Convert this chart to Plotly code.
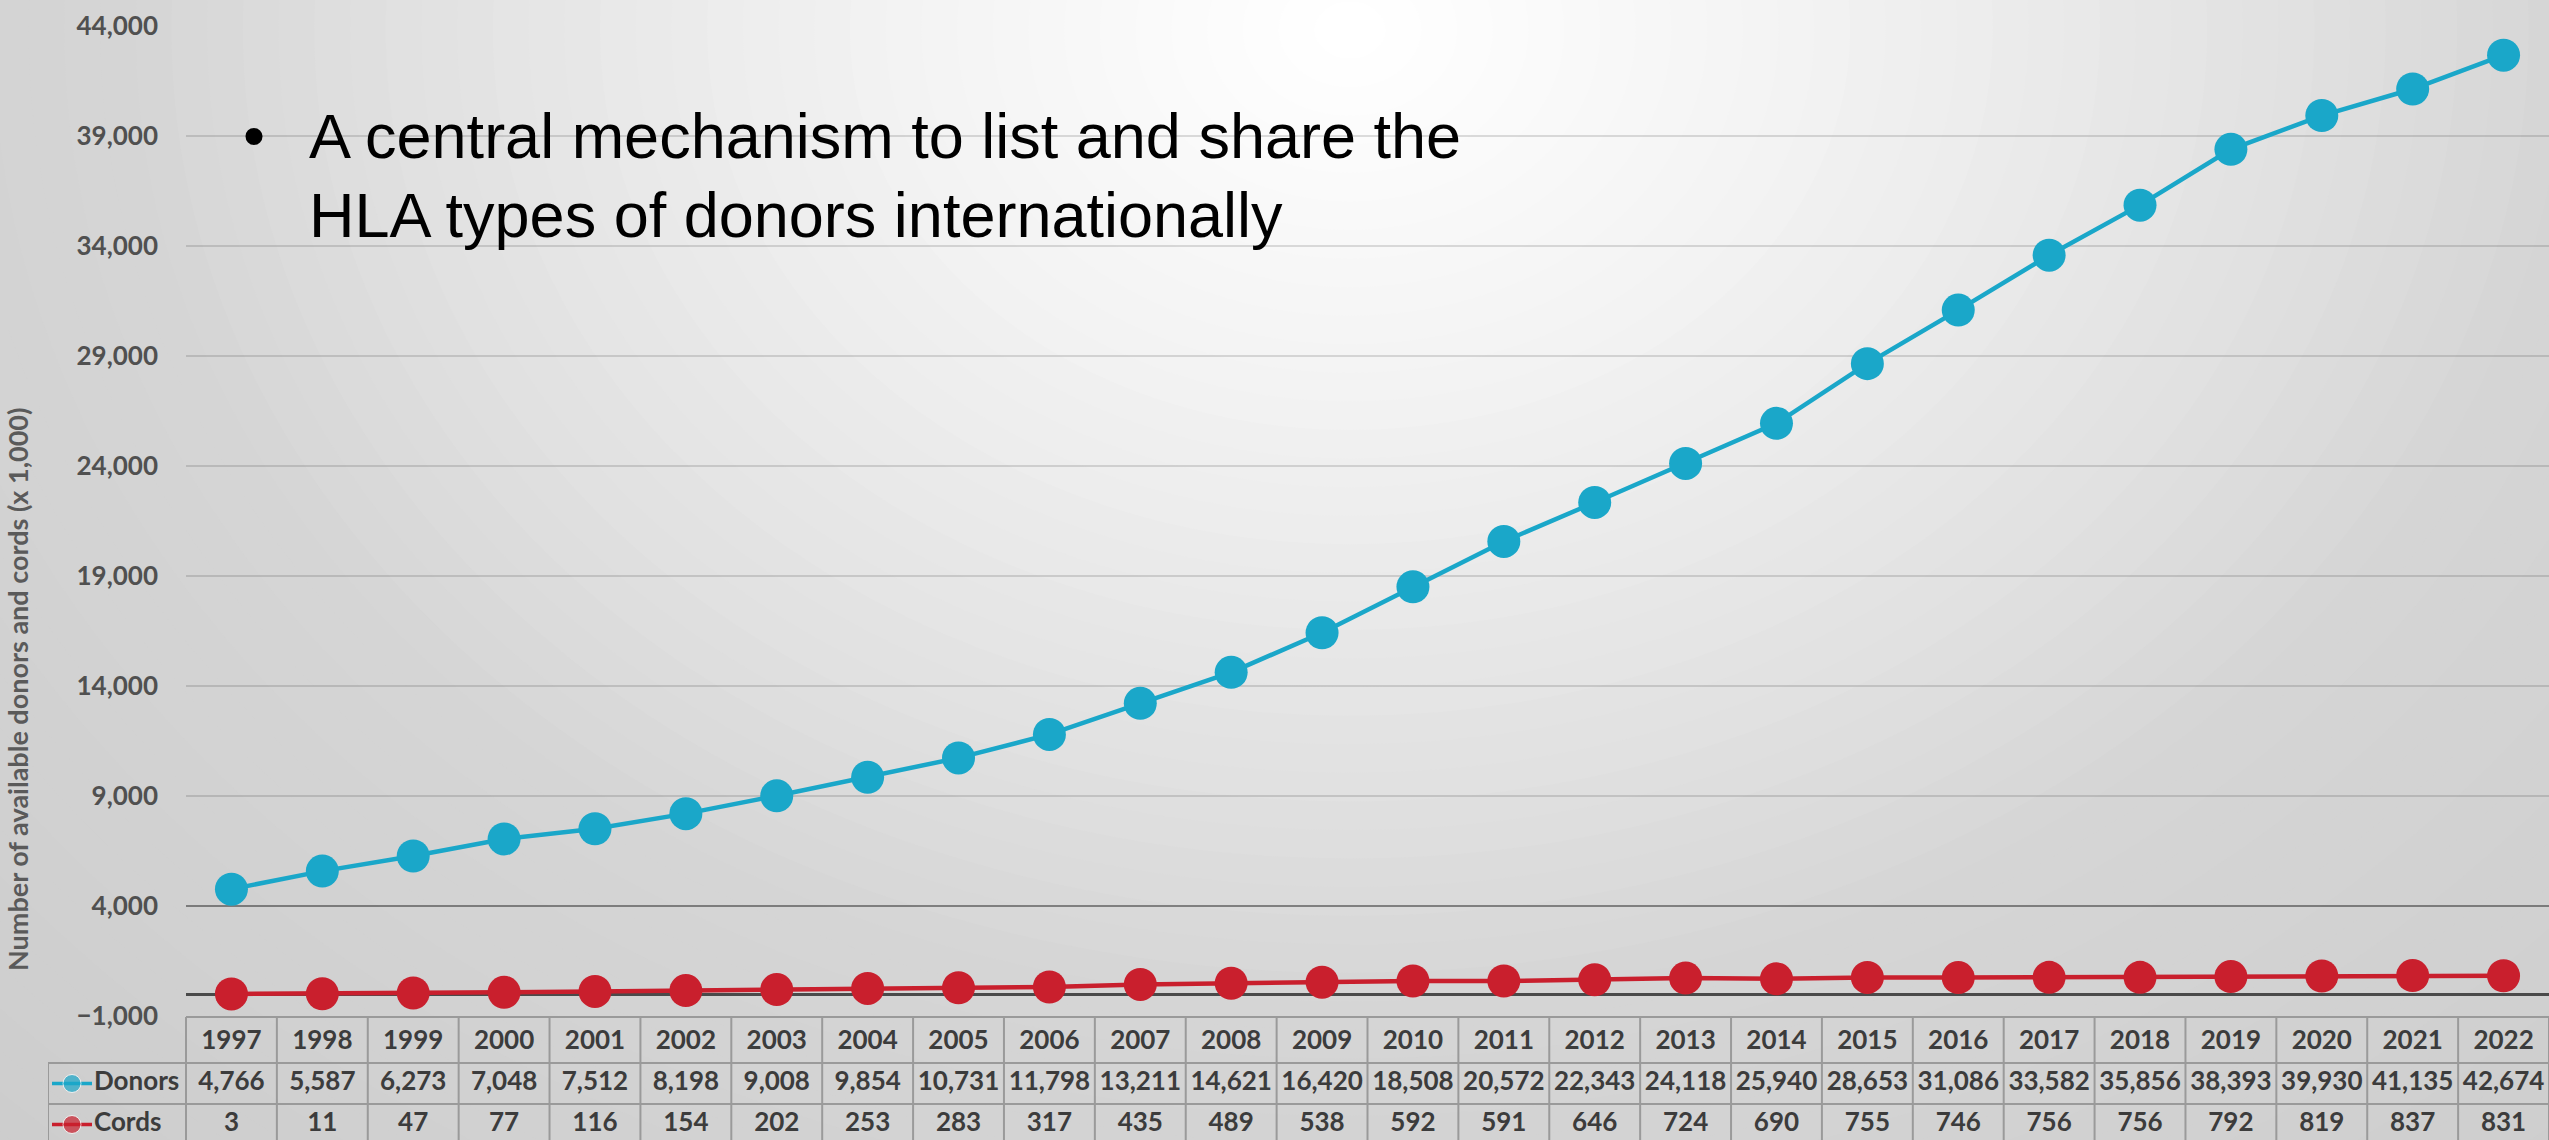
import plotly.graph_objects as go

# ---------------- data ----------------
years = list(range(1997, 2023))
donors = [4766, 5587, 6273, 7048, 7512, 8198, 9008, 9854, 10731, 11798, 13211, 14621, 16420,
          18508, 20572, 22343, 24118, 25940, 28653, 31086, 33582, 35856, 38393, 39930, 41135, 42674]
cords = [3, 11, 47, 77, 116, 154, 202, 253, 283, 317, 435, 489, 538,
         592, 591, 646, 724, 690, 755, 746, 756, 756, 792, 819, 837, 831]
series_names = ["Donors", "Cords"]
y_tick_values = list(range(-1000, 44001, 5000))
y_title = "Number of available donors and cords (x 1,000)"
bullet_lines = ["A central mechanism to list and share the", "HLA types of donors internationally"]

# ---------------- styling ----------------
W, H = 2549, 1140
BLUE = "#1aa7c9"
RED = "#c91f2d"
TXT = "#3c3c3c"
TABLE_FONT = dict(family="Lato", size=26, color=TXT, weight="bold")

PLOT_L, PLOT_T, PLOT_B = 186, 26, 1016
COL_W = (W - PLOT_L) / len(years)
TABLE_L = 48


def pxx(p):
    return p / W


def pxy(p):
    return (H - p) / H


fig = go.Figure()

# main series
fig.add_trace(go.Scatter(x=years, y=donors, name=series_names[0], mode="lines+markers",
                         line=dict(color=BLUE, width=4.5), marker=dict(color=BLUE, size=33),
                         xaxis="x", yaxis="y", cliponaxis=False))
fig.add_trace(go.Scatter(x=years, y=cords, name=series_names[1], mode="lines+markers",
                         line=dict(color=RED, width=4.5), marker=dict(color=RED, size=33),
                         xaxis="x", yaxis="y", cliponaxis=False))

# ---------------- data table (own subplot) ----------------
x2_left = years[0] - 0.5 - (PLOT_L - TABLE_L) / COL_W
x2_right = years[-1] + 0.5
ROW_HEADER, ROW_DON, ROW_CORD = 26, 67.5, 108.5
row_edges = [1, 47, 88, 129]

fig.add_trace(go.Scatter(x=years, y=[ROW_HEADER] * len(years), text=[str(y) for y in years],
                         mode="text", textfont=TABLE_FONT, xaxis="x2", yaxis="y2",
                         hoverinfo="skip", cliponaxis=False))
fig.add_trace(go.Scatter(x=years, y=[ROW_DON] * len(years), text=[f"{v:,}" for v in donors],
                         mode="text", textfont=TABLE_FONT, xaxis="x2", yaxis="y2",
                         hoverinfo="skip", cliponaxis=False))
fig.add_trace(go.Scatter(x=years, y=[ROW_CORD] * len(years), text=[f"{v:,}" for v in cords],
                         mode="text", textfont=TABLE_FONT, xaxis="x2", yaxis="y2",
                         hoverinfo="skip", cliponaxis=False))


def xpix2(p):
    return x2_left + (p - TABLE_L) / COL_W


for name, color, row in [(series_names[0], BLUE, ROW_DON), (series_names[1], RED, ROW_CORD)]:
    fig.add_trace(go.Scatter(x=[xpix2(52), xpix2(72), xpix2(92)], y=[row] * 3,
                             mode="lines+markers", line=dict(color=color, width=3.5),
                             marker=dict(color=color, size=[0, 18, 0]),
                             xaxis="x2", yaxis="y2", hoverinfo="skip", cliponaxis=False))
    fig.add_trace(go.Scatter(x=[xpix2(94)], y=[row], text=[name], mode="text",
                             textposition="middle right", textfont=TABLE_FONT,
                             xaxis="x2", yaxis="y2", hoverinfo="skip", cliponaxis=False))

shapes = []

# background radial gradient (concentric ellipses)
cx, cy, ax, ay = 1350, 30, 1250, 1000
N = 70
rmax = 2.0
for k in range(N):
    r = rmax * (N - k) / N
    if r <= 1:
        v = 255 - 42 * r ** 1.25
    else:
        v = 213 - 14 * (r - 1)
    v = int(round(v))
    col = f"rgb({v},{v},{v})"
    shapes.append(dict(type="circle", xref="paper", yref="paper", layer="below",
                       x0=pxx(cx - r * ax), x1=pxx(cx + r * ax),
                       y0=pxy(cy + r * ay), y1=pxy(cy - r * ay),
                       fillcolor=col, line=dict(width=0)))

# slightly darker 4,000 gridline as in the original
shapes.append(dict(type="line", xref="paper", yref="y", x0=pxx(PLOT_L), x1=1,
                   y0=y_tick_values[1], y1=y_tick_values[1],
                   line=dict(color="rgba(0,0,0,0.32)", width=2), layer="below"))

GRID_LINE = dict(color="#9a9a9a", width=2)
# table: horizontal borders
shapes.append(dict(type="line", xref="x2", yref="y2", x0=years[0] - 0.5, x1=x2_right,
                   y0=row_edges[0], y1=row_edges[0], line=GRID_LINE, layer="above"))
for e in row_edges[1:]:
    shapes.append(dict(type="line", xref="x2", yref="y2", x0=x2_left, x1=x2_right,
                       y0=e, y1=e, line=GRID_LINE, layer="above"))
# table: vertical borders
for i in range(len(years) + 1):
    xv = years[0] - 0.5 + i
    shapes.append(dict(type="line", xref="x2", yref="y2", x0=xv, x1=xv,
                       y0=row_edges[0], y1=row_edges[-1], line=GRID_LINE, layer="above"))
shapes.append(dict(type="line", xref="x2", yref="y2", x0=x2_left, x1=x2_left,
                   y0=row_edges[1], y1=row_edges[-1], line=GRID_LINE, layer="above"))

annotations = [
    dict(text=y_title, xref="paper", yref="paper", x=pxx(17), y=pxy(690), textangle=-90,
         showarrow=False, xanchor="center", yanchor="middle",
         font=dict(family="Lato", size=27, color="#5a5a5a", weight="bold")),
    dict(text="•", xref="paper", yref="paper", x=pxx(254), y=pxy(135), showarrow=False,
         xanchor="center", yanchor="middle",
         font=dict(family="Liberation Sans", size=63, color="#000000")),
]
for i, line in enumerate(bullet_lines):
    annotations.append(dict(text=line, xref="paper", yref="paper", x=pxx(307),
                            y=pxy(136 + 79 * i), showarrow=False, xanchor="left",
                            yanchor="middle",
                            font=dict(family="Liberation Sans", size=63, color="#000000")))

fig.update_layout(
    width=W, height=H,
    margin=dict(l=0, r=0, t=0, b=0, autoexpand=False),
    paper_bgcolor="#d4d4d4",
    plot_bgcolor="rgba(0,0,0,0)",
    showlegend=False,
    shapes=shapes,
    annotations=annotations,
    xaxis=dict(domain=[pxx(PLOT_L), 1], range=[years[0] - 0.5, years[-1] + 0.5],
               anchor="y", visible=False, showgrid=False, zeroline=False, automargin=False),
    yaxis=dict(domain=[pxy(PLOT_B), pxy(PLOT_T)], range=[-1000, 44000], anchor="x",
               tickmode="array", tickvals=y_tick_values, tickformat=",",
               showgrid=True, gridcolor="rgba(0,0,0,0.13)", gridwidth=2,
               zeroline=True, zerolinecolor="#4a4a4a", zerolinewidth=2.5,
               showline=False, ticks="", ticklabelstandoff=27, automargin=False,
               tickfont=dict(family="Lato", size=26, color="#505050", weight="bold")),
    xaxis2=dict(domain=[pxx(TABLE_L), 1], range=[x2_left, x2_right], anchor="y2",
                visible=False, showgrid=False, zeroline=False, automargin=False),
    yaxis2=dict(domain=[0, pxy(PLOT_B)], range=[124, 0], anchor="x2",
                visible=False, showgrid=False, zeroline=False, automargin=False),
)

fig.write_html("out.html", config={"displayModeBar": False},
               post_script="document.body.style.margin='0';document.body.style.overflow='hidden';")
